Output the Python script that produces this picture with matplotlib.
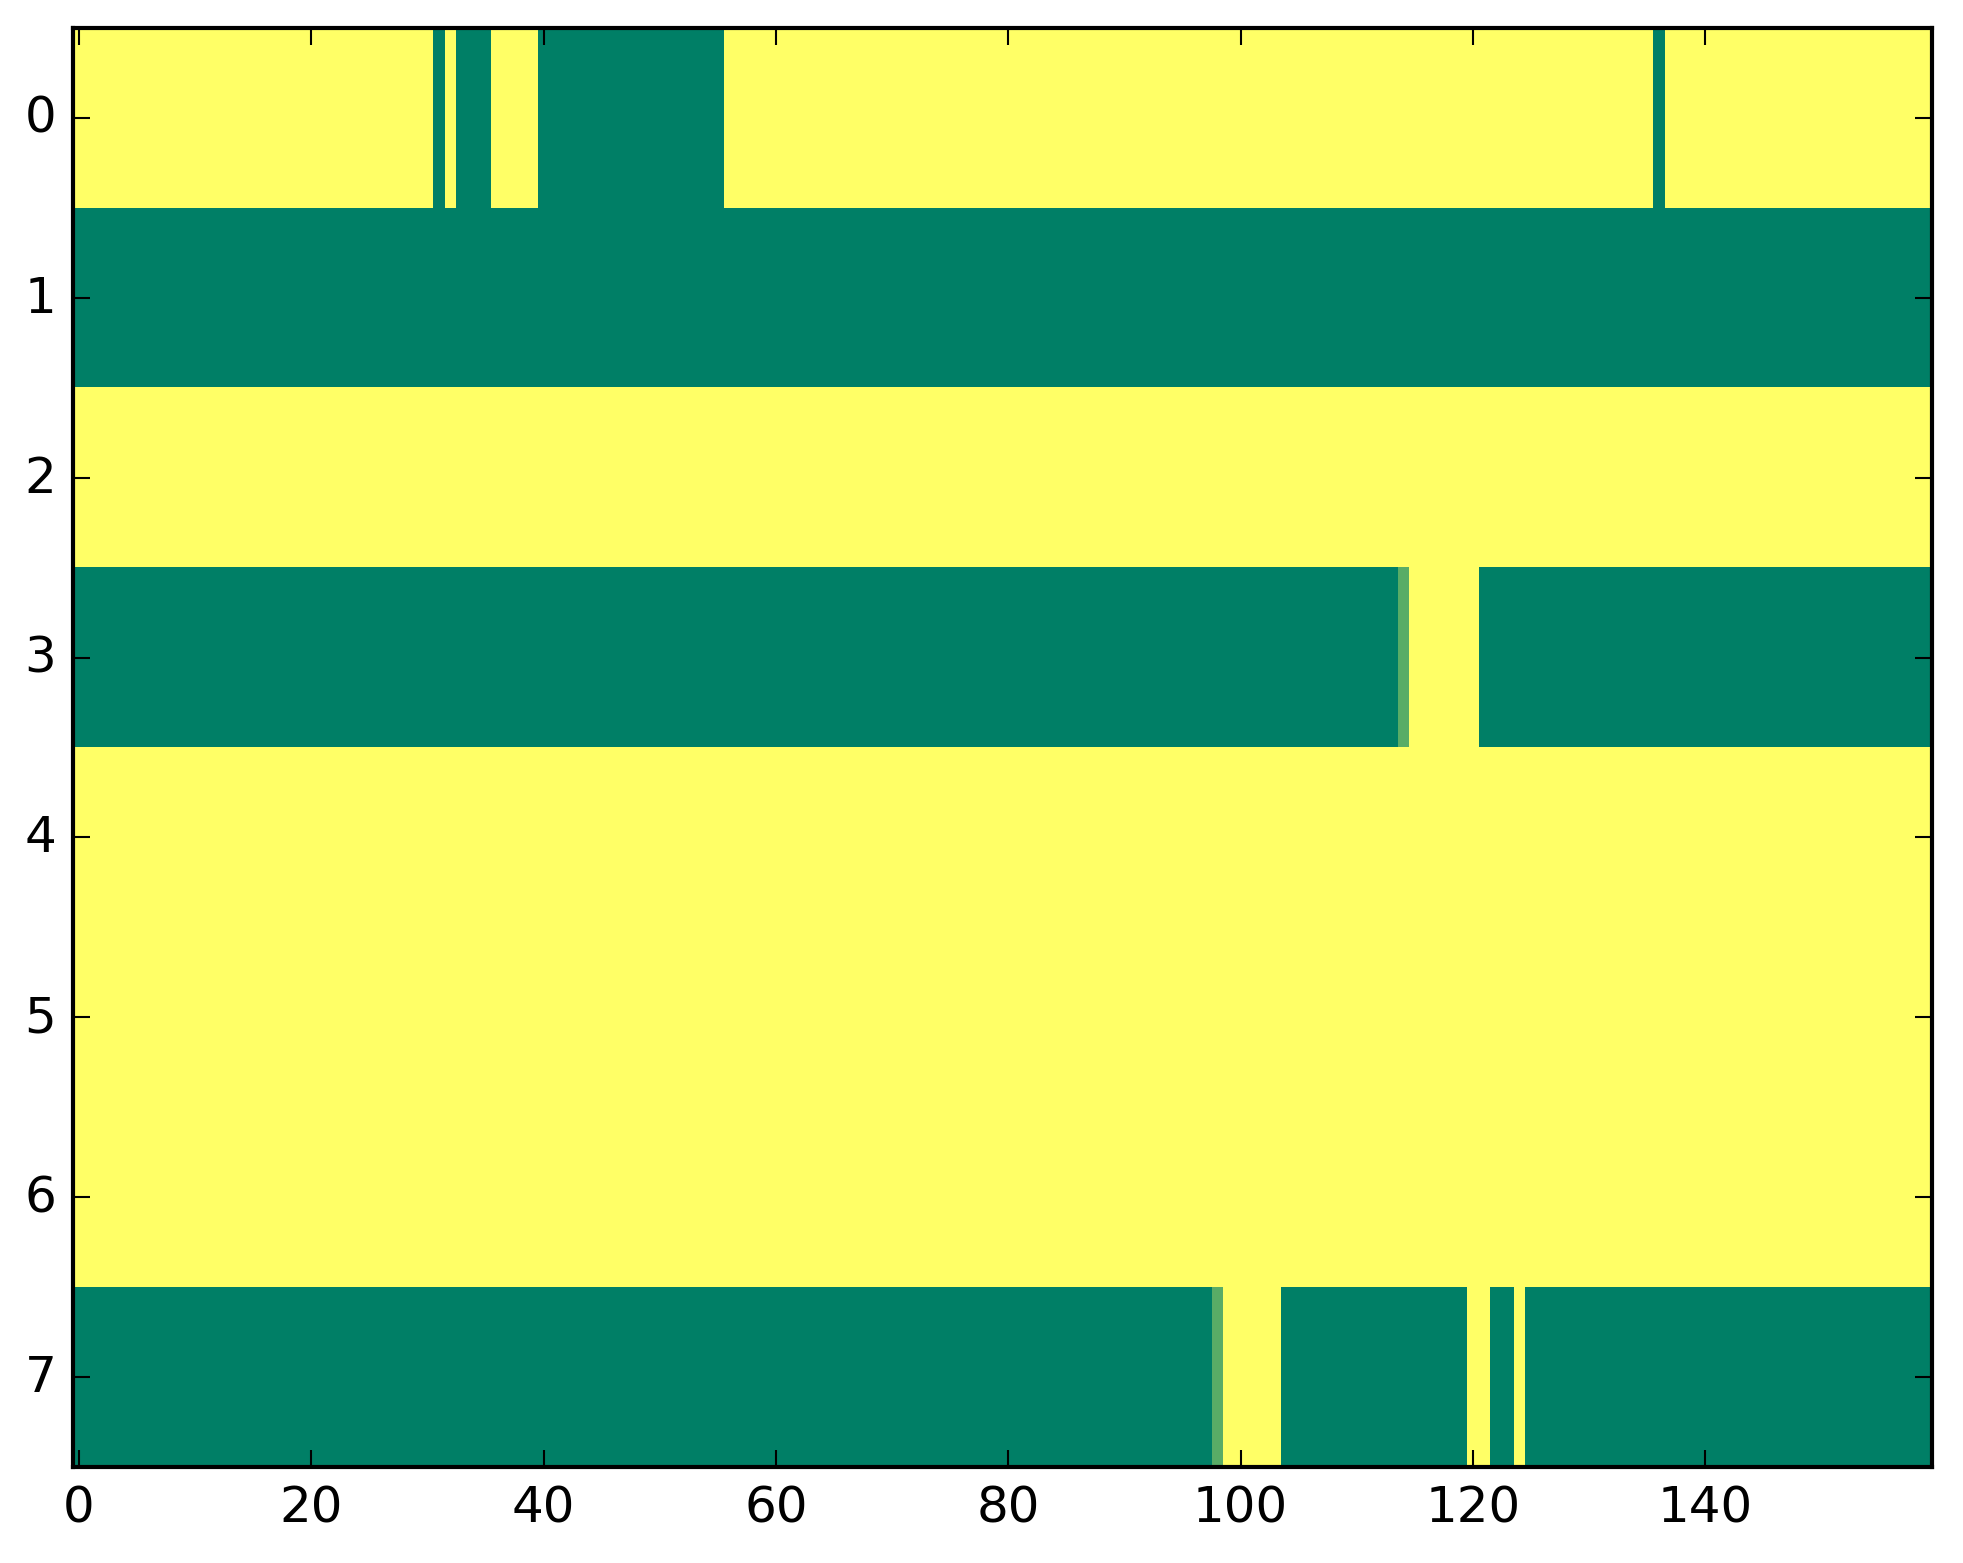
import numpy as np
import matplotlib
matplotlib.use("Agg")
import matplotlib.pyplot as plt

plt.style.use('classic')

# rows of the grid as (value, run length) runs, 1 = yellow, 0 = green
row0 = [(1, 31), (0, 1), (1, 1), (0, 3), (1, 4), (0, 16), (1, 80), (0, 1), (1, 23)]
row1 = [(0, 160)]
row2 = [(1, 160)]
row3 = [(0, 114), (0.35, 1), (1, 6), (0, 39)]
row4 = [(1, 160)]
row5 = [(1, 160)]
row6 = [(1, 160)]
row7 = [(0, 98), (0.35, 1), (1, 5), (0, 16), (1, 2), (0, 2), (1, 1), (0, 35)]

rows = [row0, row1, row2, row3, row4, row5, row6, row7]
grid = np.array([np.concatenate([[v] * n for v, n in r]) for r in rows], dtype=float)

fig = plt.figure(figsize=(1963 / 300, 1564 / 300), dpi=300)
ax = fig.add_axes([73 / 1963, 1 - 1468 / 1564, 1859 / 1963, 1439 / 1564])
ax.imshow(grid, cmap='summer', vmin=0, vmax=1, aspect='auto', interpolation='nearest')
ax.set_xticks(np.arange(0, 160, 20))
ax.set_yticks(np.arange(0, 8))
fig.savefig('out.png', dpi=300)
